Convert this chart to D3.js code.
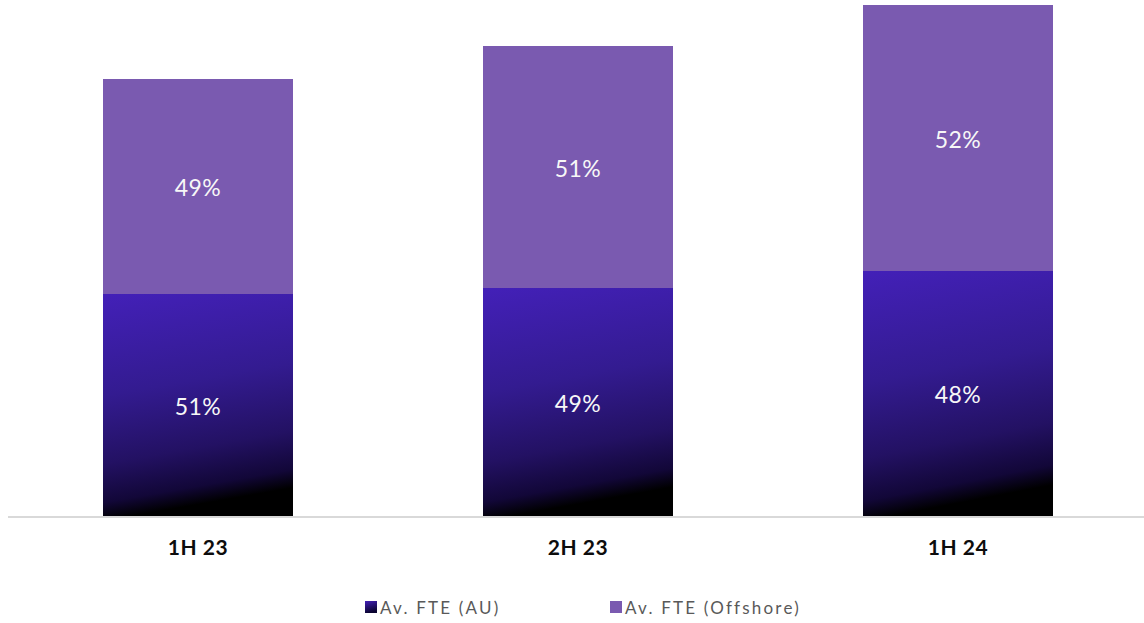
<!DOCTYPE html>
<html><head><meta charset="utf-8">
<script src="https://cdn.jsdelivr.net/npm/d3@7"></script>
<style>html,body{margin:0;padding:0;background:#fff;}svg{display:block;}</style>
</head><body>
<svg id="chart" width="1144" height="623"></svg>
<script>
const categories = ["1H 23", "2H 23", "1H 24"];
const seriesNames = ["Av. FTE (AU)", "Av. FTE (Offshore)"];
const auValues = [222, 228, 245];
const offshoreValues = [215, 242, 266];
const auLabels = ["51%", "49%", "48%"];
const offshoreLabels = ["49%", "51%", "52%"];

const svg = d3.select("#chart");
const baseY = 516, topY = 5;

const defs = svg.append("defs");
const grad = defs.append("linearGradient").attr("id", "auGrad")
  .attr("x1", 0).attr("y1", 0).attr("x2", 0.15).attr("y2", 1);
grad.append("stop").attr("offset", "0%").attr("stop-color", "#4320b8");
grad.append("stop").attr("offset", "45%").attr("stop-color", "#331b90");
grad.append("stop").attr("offset", "75%").attr("stop-color", "#231163");
grad.append("stop").attr("offset", "92%").attr("stop-color", "#120738");
grad.append("stop").attr("offset", "100%").attr("stop-color", "#000000");

const x = d3.scaleBand().domain(categories).range([8, 1148]).paddingInner(0.5).paddingOuter(0.25);
const totals = categories.map((c, i) => auValues[i] + offshoreValues[i]);
const y = d3.scaleLinear().domain([0, d3.max(totals)]).range([baseY, topY]);

const data = categories.map((c, i) => ({c, au: auValues[i], off: offshoreValues[i], auL: auLabels[i], offL: offshoreLabels[i]}));

const g = svg.append("g");
g.selectAll("rect.au").data(data).join("rect").attr("class", "au")
  .attr("x", d => x(d.c)).attr("width", x.bandwidth())
  .attr("y", d => y(d.au)).attr("height", d => y(0) - y(d.au))
  .attr("fill", "url(#auGrad)");
g.selectAll("rect.off").data(data).join("rect").attr("class", "off")
  .attr("x", d => x(d.c)).attr("width", x.bandwidth())
  .attr("y", d => y(d.au + d.off)).attr("height", d => y(d.au) - y(d.au + d.off))
  .attr("fill", "#7a5ab0");

const lblFont = "Lato, 'Open Sans', sans-serif";
g.selectAll("text.aul").data(data).join("text")
  .attr("x", d => x(d.c) + x.bandwidth() / 2)
  .attr("y", d => (y(0) + y(d.au)) / 2)
  .attr("dy", "0.42em").attr("text-anchor", "middle")
  .attr("fill", "#f7f7f7").style("font-family", lblFont).style("font-size", "23px").style("font-weight", 400)
  .style("letter-spacing", "0.5px")
  .text(d => d.auL);
g.selectAll("text.offl").data(data).join("text")
  .attr("x", d => x(d.c) + x.bandwidth() / 2)
  .attr("y", d => (y(d.au) + y(d.au + d.off)) / 2)
  .attr("dy", "0.42em").attr("text-anchor", "middle")
  .attr("fill", "#f7f7f7").style("font-family", lblFont).style("font-size", "23px").style("font-weight", 400)
  .style("letter-spacing", "0.5px")
  .text(d => d.offL);

const xAxis = d3.axisBottom(x).tickSize(0).tickPadding(24);
const ax = svg.append("g").attr("transform", `translate(0,${baseY})`).call(xAxis);
ax.select(".domain").remove();
svg.append("line").attr("x1", 8).attr("x2", 1144).attr("y1", baseY + 1).attr("y2", baseY + 1)
  .attr("stroke", "#d9d9d9").attr("stroke-width", 2);
ax.selectAll("text").style("font-family", lblFont).style("font-size", "21px").style("font-weight", 700)
  .style("letter-spacing", "0.5px").attr("fill", "#0d0d0d");

const lg = defs.append("linearGradient").attr("id", "legGrad").attr("x1", 0).attr("y1", 0).attr("x2", 0.3).attr("y2", 1);
lg.append("stop").attr("offset", "0%").attr("stop-color", "#4320b8");
lg.append("stop").attr("offset", "100%").attr("stop-color", "#0a0430");
const legend = svg.append("g");
const legItems = [
  {name: seriesNames[0], fill: "url(#legGrad)", x: 365},
  {name: seriesNames[1], fill: "#7a5ab0", x: 610}
];
legItems.forEach(it => {
  legend.append("rect").attr("x", it.x).attr("y", 601).attr("width", 12).attr("height", 12).attr("fill", it.fill);
  legend.append("text").attr("x", it.x + 15).attr("y", 614)
    .style("font-family", lblFont).style("font-size", "17px").style("letter-spacing", "2.2px")
    .attr("fill", "#595959").text(it.name);
});
</script>
</body></html>
